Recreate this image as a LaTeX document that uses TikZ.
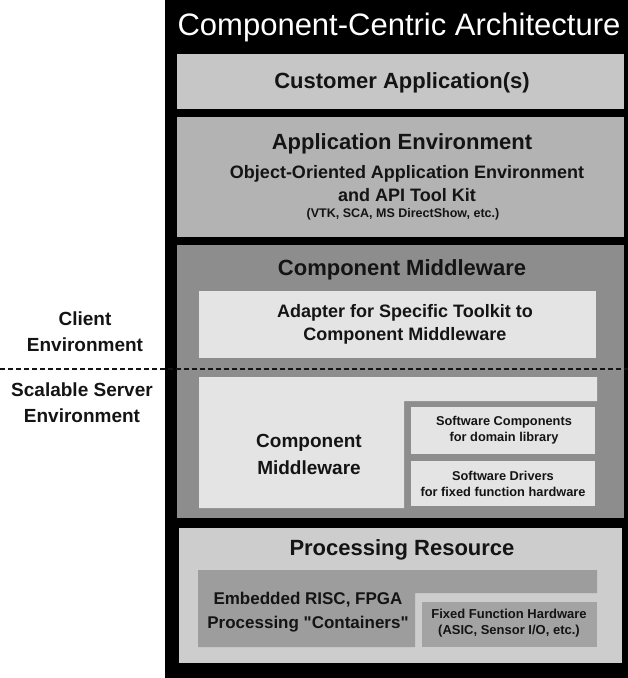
\documentclass[tikz,border=0pt]{standalone}
\usepackage{fontspec}
\setmainfont{Liberation Sans}
\definecolor{panel}{HTML}{000000}
\definecolor{custgray}{HTML}{C6C6C6}
\definecolor{envgray}{HTML}{B3B3B3}
\definecolor{midgray}{HTML}{8D8D8D}
\definecolor{palegray}{HTML}{E4E4E4}
\definecolor{procgray}{HTML}{CDCDCD}
\definecolor{embgray}{HTML}{9D9D9D}
\definecolor{fixgray}{HTML}{A3A3A3}
\definecolor{ink}{HTML}{141414}
\begin{document}
\begin{tikzpicture}[x=1pt,y=-1pt,
  lbl/.style={font=\bfseries, text=ink, inner sep=0pt, align=center},
  head/.style={lbl, font=\bfseries\fontsize{22}{24}\selectfont},
  sub/.style={lbl, font=\bfseries\fontsize{18}{21}\selectfont},
  side/.style={lbl, font=\bfseries\fontsize{19}{26}\selectfont},
  small/.style={lbl, font=\bfseries\fontsize{12.8}{16}\selectfont}]
\useasboundingbox (0,0) rectangle (628,678);
\fill[white] (0,0) rectangle (628,678);

% black stack panel
\fill[panel] (165,0) rectangle (628,678);
\node[inner sep=0pt, text=white, font=\fontsize{31}{34}\selectfont] (title) at (399,27) {Component-Centric Architecture};

% customer applications layer
\fill[custgray] (177,54) rectangle (624,109);
\node[head] (cust) at (402,83) {Customer Application(s)};

% application environment layer
\fill[envgray] (177,117) rectangle (624,237);
\node[head] (appenv) at (402,144) {Application Environment};
\node[sub] (oo1) at (407,174) {Object-Oriented Application Environment};
\node[sub] (oo2) at (407,195) {and API Tool Kit};
\node[lbl, font=\bfseries\fontsize{12.5}{14}\selectfont] (oo3) at (403,214) {(VTK, SCA, MS DirectShow, etc.)};

% component middleware layer
\fill[midgray] (177,245) rectangle (624,518);
\node[head] (mw) at (402,270) {Component Middleware};
\fill[palegray] (199,291) rectangle (596,358);
\node[lbl, font=\bfseries\fontsize{18}{23}\selectfont] (adapter) at (405,324) {Adapter for Specific Toolkit to\\Component Middleware};

\fill[palegray] (199,377) -- (597,377) -- (597,401) -- (404,401) -- (404,508) -- (199,508) -- cycle;
\node[lbl, font=\bfseries\fontsize{19}{27}\selectfont] (cmw) at (309,454) {Component\\Middleware};
\fill[palegray] (411,407) rectangle (595,454);
\node[small] (swc) at (504,430) {Software Components\\for domain library};
\fill[palegray] (411,461) rectangle (595,506);
\node[small] (swd) at (503,484) {Software Drivers\\for fixed function hardware};

% processing resource layer
\fill[procgray] (179,528) rectangle (622,663);
\node[head] (proc) at (402,550) {Processing Resource};
\fill[embgray] (198,570) -- (597,570) -- (597,593) -- (415,593) -- (415,647) -- (198,647) -- cycle;
\node[lbl, font=\bfseries\fontsize{17}{24}\selectfont] (emb) at (308,612) {Embedded RISC, FPGA\\Processing \textquotedbl Containers\textquotedbl};
\fill[fixgray] (422,602) rectangle (597,647);
\node[lbl, font=\bfseries\fontsize{13}{16}\selectfont] (fix) at (509,623) {Fixed Function Hardware\\(ASIC, Sensor I/O, etc.)};

% client / server split
\coordinate (splitL) at (0,369);
\coordinate (splitR) at (628,369);
\draw[ink, line width=2.8pt, dash pattern=on 5pt off 3pt] (splitL) -- (splitR);
\node[side] (client) at (85,332) {Client\\Environment};
\node[side] (server) at (82,403) {Scalable Server\\Environment};
\end{tikzpicture}
\end{document}
